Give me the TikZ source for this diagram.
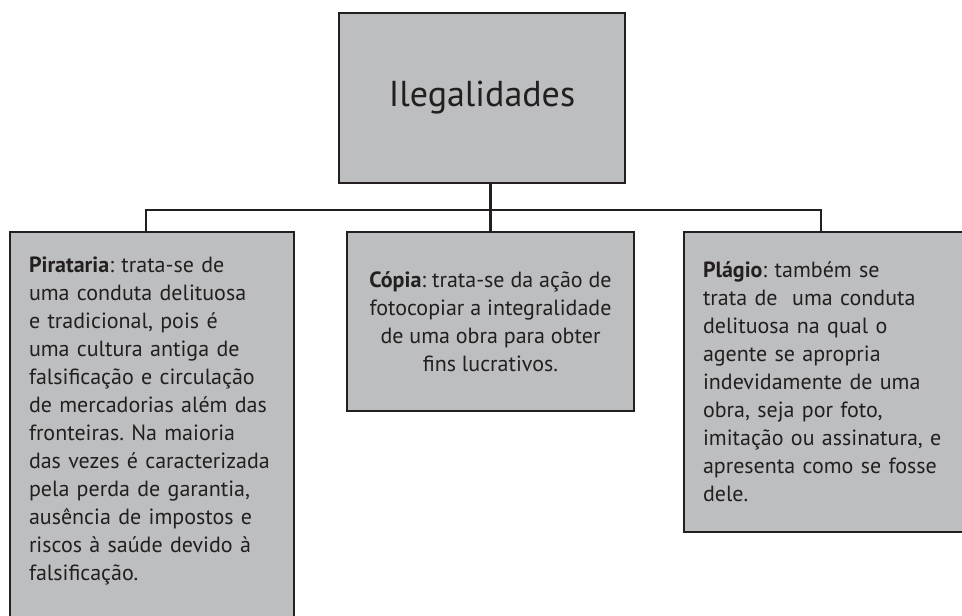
\documentclass[tikz,border=0pt]{standalone}
\usepackage{fontspec}
\setmainfont{PT Sans}
\usepackage{tikz}
\definecolor{boxgray}{HTML}{BCBEC0}
\definecolor{inkdark}{HTML}{231F20}
\newcommand{\bodyfont}{\fontsize{22}{28}\selectfont\frenchspacing}
\tikzstyle{termbox}=[draw=inkdark, fill=boxgray, line width=2.6pt, text=inkdark, inner sep=0, outer sep=0, font=\bodyfont]
\tikzstyle{titlebox}=[termbox, minimum width=286pt, minimum height=170pt, font=\fontsize{36}{40}\selectfont]
\tikzstyle{leftbox}[1]=[termbox, anchor=north west, text width=#1, align=left]
\tikzstyle{link}=[draw=inkdark, line width=2.2pt]

\begin{document}
\begin{tikzpicture}[x=1pt, y=-1pt]
        \clip (0, 0) rectangle (962, 616);
        \fill[white] (0, 0) rectangle (962, 616);
        % top box
        \node[titlebox] (ileg) at (482, 98) {Ilegalidades};
        % three boxes below
        \node[leftbox=284pt, inner ysep=25pt, text depth=380pt] (pir) at (10, 232)
            {\leftskip=19pt \textbf{Pirataria}: trata-se de\\
             uma conduta delituosa\\
             e tradicional, pois é\\
             uma cultura antiga de\\
             falsificação e circulação\\
             de mercadorias além das\\
             fronteiras. Na maioria\\
             das vezes é caracterizada\\
             pela perda de garantia,\\
             ausência de impostos e\\
             riscos à saúde devido à\\
             falsificação.\par};
        \node[termbox, anchor=north west, align=center, minimum width=287pt, minimum height=179pt] (cop) at (347, 232)
            {\textbf{Cópia}: trata-se da ação de\\
             fotocopiar a integralidade\\
             de uma obra para obter\\
             fins lucrativos.};
        \node[leftbox=300pt, minimum height=300pt] (pla) at (684, 232)
            {\leftskip=19pt \textbf{Plágio}: também se\\
             trata de \ uma conduta\\
             delituosa na qual o\\
             agente se apropria\\
             indevidamente de uma\\
             obra, seja por foto,\\
             imitação ou assinatura, e\\
             apresenta como se fosse\\
             dele.\par};
        % connectors
        \coordinate (jl) at (146, 210);
        \coordinate (jr) at (821, 210);
        \draw[link] (cop.north |- ileg.south) -- (cop.north);
        \draw[link] (jl |- pir.north) -- (jl) -- (jr) -- (jr |- pla.north);
    \end{tikzpicture}
\end{document}
